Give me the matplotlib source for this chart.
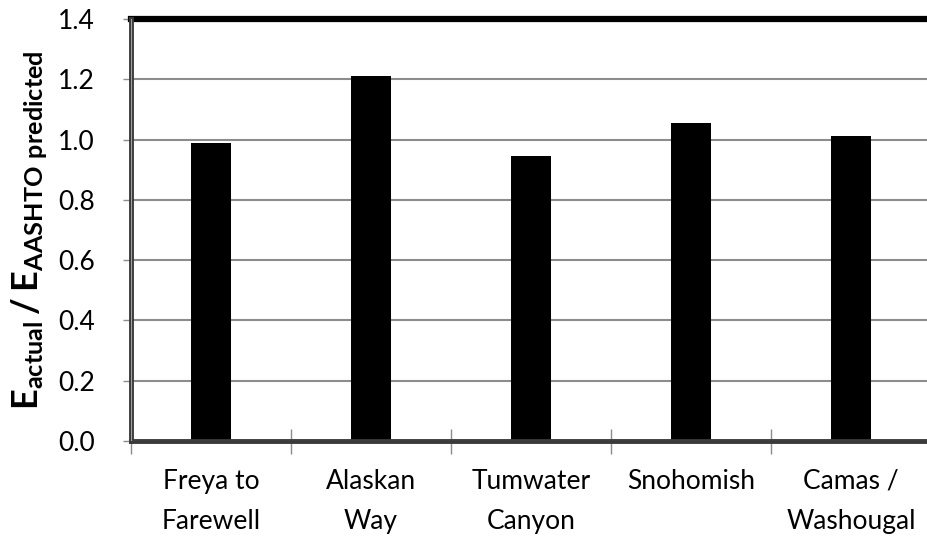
import matplotlib.pyplot as plt
import numpy as np

# data
sites = ['Freya to\nFarewell', 'Alaskan\nWay', 'Tumwater\nCanyon', 'Snohomish', 'Camas /\nWashougal']
ratio = [0.988, 1.212, 0.946, 1.054, 1.012]
yticks = [0.0, 0.2, 0.4, 0.6, 0.8, 1.0, 1.2, 1.4]

plt.rcParams['font.family'] = ['Lato', 'DejaVu Sans']
plt.rcParams['mathtext.fontset'] = 'custom'
plt.rcParams['mathtext.rm'] = 'Lato'
plt.rcParams['mathtext.bf'] = 'Lato:bold'

fig = plt.figure(figsize=(9.27, 5.4), dpi=100)
ax = fig.add_axes([0.1413, 0.1833, 0.8630, 0.7815])

x = np.arange(len(sites))
ax.bar(x, ratio, width=0.25, color='black', zorder=3)

ax.set_xlim(-0.5, len(sites) - 0.5)
ax.set_ylim(0, 1.4)
ax.set_yticks(yticks)
ax.set_yticklabels(['%.1f' % v for v in yticks], fontsize=19)
ax.yaxis.grid(True, color='#8c8c8c', linewidth=1.5, zorder=0)

# category labels between boundary ticks
ax.set_xticks(x)
ax.set_xticklabels(sites, fontsize=19, linespacing=1.75)
ax.tick_params(axis='x', length=0, pad=20)
ax.set_xticks(np.arange(len(sites) + 1) - 0.5, minor=True)
ax.tick_params(axis='x', which='minor', direction='inout', length=18, width=1, color='#8c8c8c')
ax.tick_params(axis='y', direction='out', length=6, width=1, color='#8c8c8c', pad=20)

ax.spines['top'].set_linewidth(4.5)
ax.spines['top'].set_color('black')
ax.spines['right'].set_visible(False)
for s in ['left', 'bottom']:
    ax.spines[s].set_linewidth(3.5)
    ax.spines[s].set_color('#3a3a3a')
    ax.spines[s].set_zorder(4)
ax.axhline(0, color='#a0a0a0', linewidth=0.8, zorder=5)
ax.axvline(-0.5, color='#a0a0a0', linewidth=0.8, zorder=5)

ax.set_ylabel(r'$\mathbf{E_{actual}\,/\,E_{AASHTO\ predicted}}$', fontsize=26, labelpad=6)

fig.savefig('out.png', dpi=100)
